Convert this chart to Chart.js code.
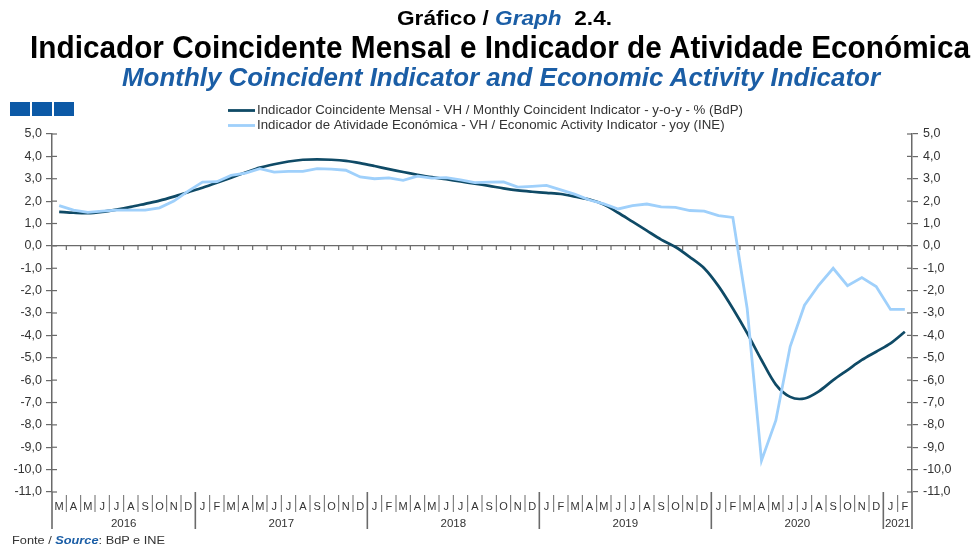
<!DOCTYPE html>
<html>
<head>
<meta charset="utf-8">
<script src="https://cdn.jsdelivr.net/npm/chart.js@4.4.1/dist/chart.umd.min.js"></script>
<style>
  body { margin: 0; background: #fff; }
  #wrap { position: relative; width: 976px; height: 549px; overflow: hidden; font-family: "Liberation Sans", Arial, sans-serif; }
  #chart { position: absolute; left: 0; top: 0; }
  .t { position: absolute; white-space: nowrap; font-weight: bold; transform-origin: 0 0; line-height: 1; color: #000; }
  .blue { color: #1b5ea6; font-style: italic; }
</style>
</head>
<body>
<div id="wrap">
  <canvas id="chart" width="976" height="549"></canvas>
  <div class="t" data-x="397" data-w="215" style="top:7px;font-size:21px">Gráfico / <span class="blue">Graph</span>&nbsp; 2.4.</div>
  <div class="t" data-x="30" data-w="940" style="top:32px;font-size:31px">Indicador Coincidente Mensal e Indicador de Atividade Económica</div>
  <div class="t blue" data-x="122" data-w="758" style="top:65px;font-size:25px">Monthly Coincident Indicator and Economic Activity Indicator</div>
  <div class="t" data-x="12" data-w="153" style="top:535px;font-size:11.5px;font-weight:normal;color:#333">Fonte / <span class="blue" style="font-weight:bold">Source</span>: BdP e INE</div>
</div>

<script>
  // ===== DATA =====
  // months from March 2016 to February 2021
  const monthLabels = [
    'M','A','M','J','J','A','S','O','N','D',
    'J','F','M','A','M','J','J','A','S','O','N','D',
    'J','F','M','A','M','J','J','A','S','O','N','D',
    'J','F','M','A','M','J','J','A','S','O','N','D',
    'J','F','M','A','M','J','J','A','S','O','N','D',
    'J','F'
  ];
  const years = ['2016', '2017', '2018', '2019', '2020', '2021'];
  const yearStart = [0, 10, 22, 34, 46, 58];   // index of first month of each year

  const legendLabels = [
    'Indicador Coincidente Mensal - VH / Monthly Coincident Indicator - y-o-y - % (BdP)',
    'Indicador de Atividade Económica - VH / Economic Activity Indicator - yoy (INE)'
  ];

  // Monthly Coincident Indicator (BdP)
  const coincident = [
    1.52, 1.48, 1.46, 1.52, 1.62, 1.74, 1.88, 2.02, 2.20, 2.40,
    2.60, 2.82, 3.05, 3.28, 3.50, 3.65, 3.77, 3.85, 3.87, 3.85, 3.80, 3.70,
    3.57, 3.43, 3.30, 3.18, 3.07, 2.98, 2.88, 2.78, 2.68, 2.57, 2.48, 2.42,
    2.37, 2.32, 2.20, 2.07, 1.85, 1.48, 1.08, 0.68, 0.28, -0.05, -0.50, -1.00,
    -1.80, -2.80, -3.90, -5.10, -6.20, -6.75, -6.82, -6.50, -6.00, -5.55, -5.10, -4.73,
    -4.36, -3.84
  ];

  // Economic Activity Indicator (INE)
  const activity = [
    1.80, 1.60, 1.50, 1.55, 1.60, 1.60, 1.60, 1.70, 2.00, 2.45,
    2.85, 2.87, 3.15, 3.25, 3.45, 3.30, 3.33, 3.33, 3.45, 3.43, 3.38, 3.08,
    3.00, 3.04, 2.93, 3.12, 3.03, 3.05, 2.95, 2.83, 2.85, 2.86, 2.63, 2.66,
    2.70, 2.50, 2.30, 2.05, 1.88, 1.65, 1.80, 1.87, 1.74, 1.72, 1.58, 1.55,
    1.35, 1.27, -2.80, -9.60, -7.80, -4.50, -2.65, -1.75, -1.00, -1.78, -1.42, -1.82,
    -2.84, -2.84
  ];

  const yMin = -11, yMax = 5;

  const darkBlue = '#0f4a66';
  const lightBlue = '#9fd0fb';
  const axisColor = '#6a6a6a';
  const textColor = '#333';
  const fontFamily = '"Liberation Sans", Arial, sans-serif';

  // ===== TITLES: squeeze to measured width =====
  document.querySelectorAll('.t').forEach(el => {
    const w = el.getBoundingClientRect().width;
    el.style.left = el.dataset.x + 'px';
    el.style.transform = 'scaleX(' + (el.dataset.w / w) + ')';
  });

  const fmt = v => v.toFixed(1).replace('.', ',');

  // ===== AXIS DECORATIONS, LEGEND =====
  const decor = {
    id: 'decor',
    afterDraw(chart) {
      const c = chart.ctx;
      const xs = chart.scales.x, ys = chart.scales.y, y2 = chart.scales.y2;
      const n = monthLabels.length;
      const top = xs.top;

      function line(x1, y1, x2, y2_) {
        c.beginPath(); c.moveTo(x1, y1); c.lineTo(x2, y2_); c.stroke();
      }
      const edge = i => i === 0 ? xs.left : i === n ? xs.right
        : (xs.getPixelForValue(i - 1) + xs.getPixelForValue(i)) / 2;

      c.save();
      c.strokeStyle = axisColor;

      // inward half of the cross ticks
      c.lineWidth = 1.2;
      ys.ticks.forEach(t => {
        const py = ys.getPixelForValue(t.value);
        line(ys.right, py, ys.right + 5, py);
        line(y2.left - 5, py, y2.left, py);
      });

      // small ticks under the zero line
      const y0 = ys.getPixelForValue(0);
      for (let i = 1; i < n; i++) line(edge(i), y0, edge(i), y0 + 4);

      // month and year separators
      for (let i = 0; i <= n; i++) {
        const e = edge(i);
        if (yearStart.includes(i) || i === n) {
          c.lineWidth = 1.6;
          line(e, top, e, top + 37);
        } else {
          c.lineWidth = 1;
          line(e, top + 3, e, top + 20);
        }
      }

      // year labels
      c.fillStyle = textColor;
      c.font = '11.5px ' + fontFamily;
      c.textAlign = 'center';
      c.textBaseline = 'middle';
      years.forEach((y, k) => {
        const a = edge(yearStart[k]);
        const b = edge(k + 1 < years.length ? yearStart[k + 1] : n);
        c.fillText(y, (a + b) / 2, top + 32);
      });

      // legend, text stretched to the width seen in the reference
      const colors = [darkBlue, lightBlue];
      c.textAlign = 'left';
      c.font = '12px ' + fontFamily;
      const sx = 486 / c.measureText(legendLabels[0]).width;
      legendLabels.forEach((lab, k) => {
        const ly = 110.5 + k * 15;
        c.strokeStyle = colors[k];
        c.lineWidth = 2.8;
        line(228, ly, 255, ly);
        c.save();
        c.translate(257, ly);
        c.scale(sx, 1);
        c.fillStyle = textColor;
        c.fillText(lab, 0, 0);
        c.restore();
      });

      // three blue squares
      c.fillStyle = '#0c59a6';
      [10, 32, 54].forEach(x => c.fillRect(x, 102, 20, 14));

      c.restore();
    }
  };

  const tickFont = { family: fontFamily, size: 12.5 };

  new Chart(document.getElementById('chart').getContext('2d'), {
    type: 'line',
    data: {
      labels: monthLabels,
      datasets: [
        { label: legendLabels[0], data: coincident, borderColor: darkBlue, borderWidth: 2.7,
          pointRadius: 0, tension: 0.3, order: 1 },
        { label: legendLabels[1], data: activity, borderColor: lightBlue, borderWidth: 2.8,
          pointRadius: 0, tension: 0, order: 0 }
      ]
    },
    options: {
      responsive: false,
      devicePixelRatio: 1,
      animation: false,
      layout: { padding: { top: 134 } },
      plugins: { legend: { display: false }, tooltip: { enabled: false } },
      scales: {
        x: {
          offset: true,
          grid: { display: false },
          border: { display: false },
          ticks: { autoSkip: false, maxRotation: 0, padding: 0, color: textColor,
                   font: { family: fontFamily, size: 11 } },
          afterFit: s => { s.height = 57; }
        },
        y: {
          position: 'left', min: yMin, max: yMax,
          ticks: { stepSize: 1, callback: fmt, padding: 4, color: textColor, font: tickFont },
          grid: { color: c => c.tick && c.tick.value === 0 ? axisColor : 'rgba(0,0,0,0)',
                  tickColor: axisColor, tickLength: 6, lineWidth: 1.2 },
          border: { color: axisColor, width: 1.5 },
          afterFit: s => { s.width = 52; }
        },
        y2: {
          position: 'right', min: yMin, max: yMax,
          ticks: { stepSize: 1, callback: fmt, padding: 5, color: textColor, font: tickFont },
          grid: { drawOnChartArea: false, color: axisColor, tickLength: 6, lineWidth: 1.2 },
          border: { color: axisColor, width: 1.5 },
          afterFit: s => { s.width = 64; }
        }
      }
    },
    plugins: [decor]
  });
</script>
</body>
</html>
